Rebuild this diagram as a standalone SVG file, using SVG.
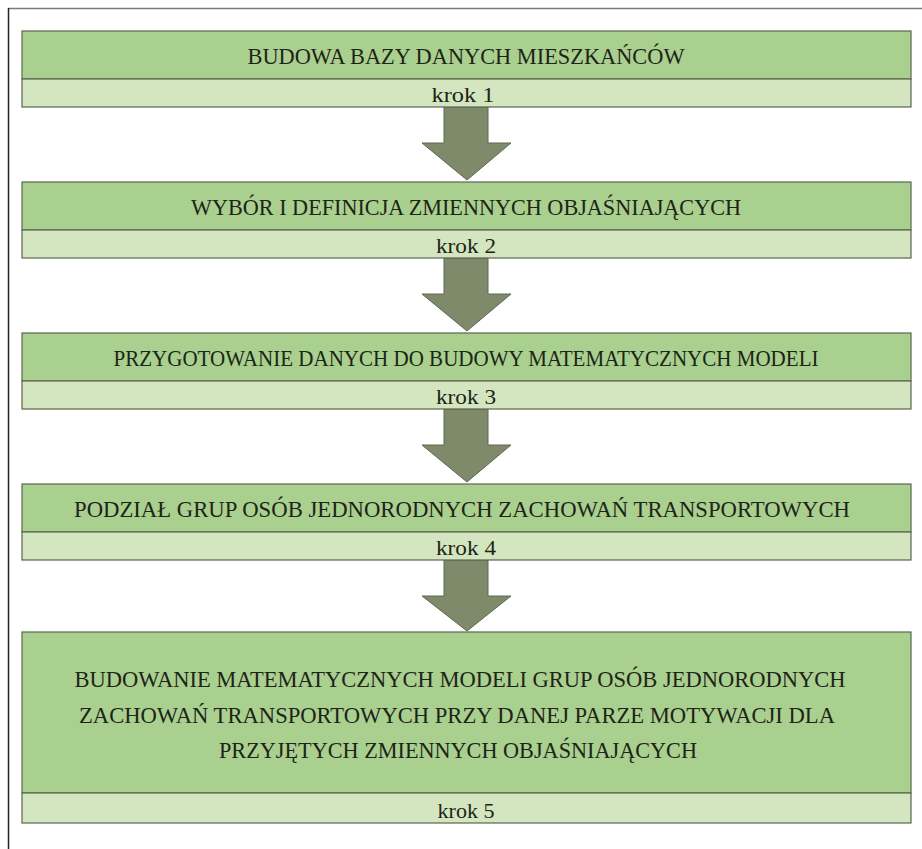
<svg xmlns="http://www.w3.org/2000/svg" width="922" height="849" viewBox="0 0 922 849">
<style>
.top{fill:#a9d08e;stroke:#5b6650;stroke-width:1.2}
.bot{fill:#d3e6bf;stroke:#5b6650;stroke-width:1.2}
.t{font-family:"Liberation Serif","Times New Roman",serif;font-size:24px;fill:#1e2418;text-anchor:middle}
.k{font-family:"Liberation Serif","Times New Roman",serif;font-size:22px;fill:#1e2418;text-anchor:middle}
.arr{fill:#7f8a6a;stroke:#5e6850;stroke-width:1}
</style>
<rect width="922" height="849" fill="#ffffff"/>
<g id="frame">
<line x1="8" y1="8.5" x2="922" y2="8.5" stroke="#7a7a7a" stroke-width="1.5"/>
<line x1="8.5" y1="8" x2="8.5" y2="849" stroke="#222" stroke-width="1.5"/>
</g>
<g id="connectors">
<polygon class="arr" points="444,107 488,107 488,143 511,143 467,180 422,143 444,143"/>
<polygon class="arr" points="444,258 488,258 488,294 511,294 467,331 422,294 444,294"/>
<polygon class="arr" points="444,409 488,409 488,445 511,445 467,482 422,445 444,445"/>
<polygon class="arr" points="444,560 488,560 488,596 511,596 467,631 422,596 444,596"/>
</g>
<g id="node1">
<rect class="top" x="22" y="31" width="889" height="48"/>
<rect class="bot" x="22" y="79" width="889" height="28"/>
<text class="t" x="466" y="64" textLength="437" lengthAdjust="spacingAndGlyphs">BUDOWA BAZY DANYCH MIESZKAŃCÓW</text>
<text class="k" x="463" y="102" textLength="63" lengthAdjust="spacingAndGlyphs">krok 1</text>
</g>
<g id="node2">
<rect class="top" x="22" y="182" width="889" height="48"/>
<rect class="bot" x="22" y="230" width="889" height="28"/>
<text class="t" x="466" y="215" textLength="550" lengthAdjust="spacingAndGlyphs">WYBÓR I DEFINICJA ZMIENNYCH OBJAŚNIAJĄCYCH</text>
<text class="k" x="466" y="253" textLength="60" lengthAdjust="spacingAndGlyphs">krok 2</text>
</g>
<g id="node3">
<rect class="top" x="22" y="333" width="889" height="48"/>
<rect class="bot" x="22" y="381" width="889" height="28"/>
<text class="t" x="466" y="366" textLength="705" lengthAdjust="spacingAndGlyphs">PRZYGOTOWANIE DANYCH DO BUDOWY MATEMATYCZNYCH MODELI</text>
<text class="k" x="466" y="404" textLength="60" lengthAdjust="spacingAndGlyphs">krok 3</text>
</g>
<g id="node4">
<rect class="top" x="22" y="484" width="889" height="48"/>
<rect class="bot" x="22" y="532" width="889" height="28"/>
<text class="t" x="462" y="517" textLength="776" lengthAdjust="spacingAndGlyphs">PODZIAŁ GRUP OSÓB JEDNORODNYCH ZACHOWAŃ TRANSPORTOWYCH</text>
<text class="k" x="466" y="555" textLength="60" lengthAdjust="spacingAndGlyphs">krok 4</text>
</g>
<g id="node5">
<rect class="top" x="22" y="632" width="889" height="161"/>
<rect class="bot" x="22" y="793" width="889" height="30"/>
<text class="t" x="460" y="687" textLength="771" lengthAdjust="spacingAndGlyphs">BUDOWANIE MATEMATYCZNYCH MODELI GRUP OSÓB JEDNORODNYCH</text>
<text class="t" x="457" y="723" textLength="756" lengthAdjust="spacingAndGlyphs">ZACHOWAŃ TRANSPORTOWYCH PRZY DANEJ PARZE MOTYWACJI DLA</text>
<text class="t" x="458" y="758" textLength="478" lengthAdjust="spacingAndGlyphs">PRZYJĘTYCH ZMIENNYCH OBJAŚNIAJĄCYCH</text>
<text class="k" x="466" y="818" textLength="57" lengthAdjust="spacingAndGlyphs">krok 5</text>
</g>
</svg>
